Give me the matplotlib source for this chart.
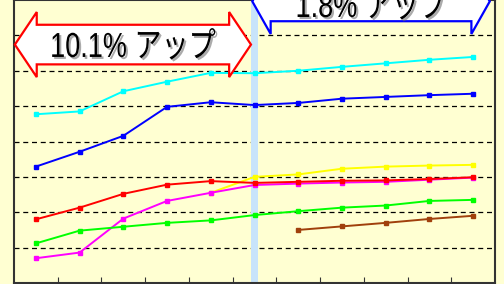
import matplotlib.pyplot as plt
import matplotlib.patheffects as pe
from matplotlib.patches import Polygon
from matplotlib.transforms import Affine2D
import numpy as np

plt.rcParams['font.family'] = ['Liberation Sans', 'Arial', 'Noto Sans CJK JP', 'DejaVu Sans']

# 11 periods, values
periods = np.arange(11)
cyan_vals = [4.77, 4.85, 5.42, 5.69, 5.94, 5.93, 6.00, 6.11, 6.21, 6.31, 6.39]
blue_vals = [3.29, 3.71, 4.16, 4.98, 5.11, 5.03, 5.09, 5.21, 5.26, 5.31, 5.35]
red_vals = [1.80, 2.13, 2.52, 2.78, 2.88, 2.83, 2.86, 2.89, 2.90, 2.94, 2.99]
magenta_vals = [0.70, 0.86, 1.82, 2.32, 2.55, 2.77, 2.81, 2.84, 2.86, 2.92, 2.98]
yellow_vals = [np.nan] * 4 + [2.55, 3.00, 3.07, 3.23, 3.29, 3.32, 3.34]
green_vals = [1.12, 1.48, 1.59, 1.70, 1.77, 1.92, 2.03, 2.13, 2.19, 2.32, 2.35]
brown_vals = [np.nan] * 6 + [1.50, 1.60, 1.70, 1.81, 1.90]

left_label = '10.1% アップ'
right_label = '1.8% アップ'

bg = '#FFFFD2'
fig = plt.figure(figsize=(5.04, 2.84), dpi=100, facecolor=bg)
ax = fig.add_axes([14 / 504, 1 / 284, 481 / 504, 283 / 284])
ax.set_facecolor(bg)
ax.set_xlim(-0.5, 10.5)
ax.set_ylim(0, 8)

for y in range(1, 8):
    ax.axhline(y, color='black', lw=0.9, ls=(0, (4, 3)), zorder=1)

ax.axvspan(4.92, 5.09, color='#C8E4FA', lw=0, zorder=2)

series = [
    (yellow_vals, '#FFFF00'),
    (magenta_vals, '#FF00FF'),
    (red_vals, '#FF0000'),
    (green_vals, '#00FF00'),
    (brown_vals, '#A0400C'),
    (blue_vals, '#0000FF'),
    (cyan_vals, '#00FFFF'),
]
for vals, col in series:
    ax.plot(periods, vals, color=col, lw=1.4, marker='s', ms=3, zorder=3)

ax.set_xticks(np.arange(0.5, 10, 1))
ax.set_yticks([])
ax.tick_params(axis='x', direction='in', length=4, labelbottom=False, color='#333333')
for s in ax.spines.values():
    s.set_color('#333333')
    s.set_linewidth(1.5)


class SqueezeShadow(pe.AbstractPathEffect):
    # narrow the glyphs around the anchor and put a grey drop shadow under them
    def __init__(self, x, sx=0.78):
        super().__init__()
        self.x = x
        self.sx = sx

    def draw_path(self, renderer, gc, tpath, affine, rgbFace=None):
        cx = ax.transData.transform((self.x, 0))[0]
        sq = affine + Affine2D().translate(-cx, 0).scale(self.sx, 1).translate(cx, 0)
        gc0 = renderer.new_gc()
        gc0.copy_properties(gc)
        gc0.set_linewidth(0)
        gc0.set_alpha(0.55)
        renderer.draw_path(gc0, tpath, sq + Affine2D().translate(2, -2), (0.4, 0.4, 0.4))
        gc0.restore()
        renderer.draw_path(gc, tpath, sq, rgbFace)


def double_arrow(x0, x1, yc, body, head, hlen, edge):
    pts = [
        (x0, yc), (x0 + hlen, yc + head), (x0 + hlen, yc + body),
        (x1 - hlen, yc + body), (x1 - hlen, yc + head), (x1, yc),
        (x1 - hlen, yc - head), (x1 - hlen, yc - body), (x0 + hlen, yc - body),
        (x0 + hlen, yc - head),
    ]
    ax.add_patch(Polygon(pts, closed=True, facecolor='white', edgecolor=edge,
                         lw=1.6, zorder=5, clip_on=False, joinstyle='miter'))


double_arrow(-0.48, 4.92, 6.74, 0.56, 0.92, 0.5, '#FF0000')
ax.text(2.22, 6.39, left_label, fontsize=25, ha='center', va='baseline',
        zorder=6, path_effects=[SqueezeShadow(2.22)])

double_arrow(4.95, 10.38, 7.96, 0.56, 0.92, 0.42, '#0000FF')
ax.text(7.66, 7.52, right_label, fontsize=25, ha='center', va='baseline',
        zorder=6, path_effects=[SqueezeShadow(7.66)], clip_on=False)

fig.savefig('out.png', dpi=100, facecolor=bg)
